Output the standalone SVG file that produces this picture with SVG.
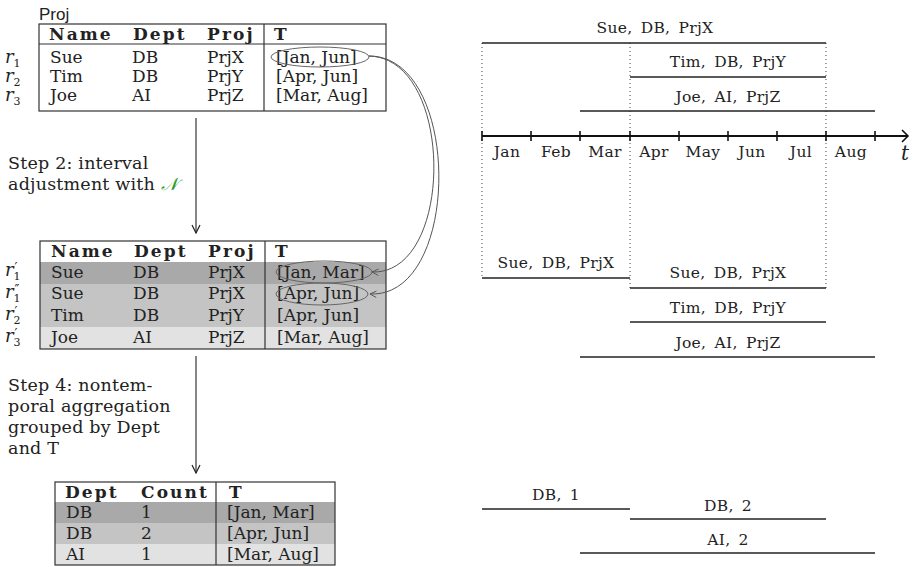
<svg xmlns="http://www.w3.org/2000/svg" width="918" height="567" viewBox="0 0 918 567">
<defs>
<style>
text{font-family:"DejaVu Serif","Liberation Serif",serif;fill:#222}
.cell{font-size:17px}
.hdr{font-size:17px;font-weight:bold;letter-spacing:2.1px}
.lbl{font-size:15.5px;text-anchor:middle;word-spacing:3px;letter-spacing:0.3px}
.mon{font-size:15.5px;text-anchor:middle;letter-spacing:0.4px}
.step{font-size:17.5px;letter-spacing:0.2px}
.ri{font-size:18px;font-style:italic}
.sb{font-size:11px;font-style:normal}
.pr{font-size:13px;font-style:normal}
.box{fill:none;stroke:#333;stroke-width:1.2}
.sep{stroke:#333;stroke-width:1.2}
.iv{stroke:#222;stroke-width:1.3}
.dot{stroke:#444;stroke-width:1;stroke-dasharray:1 3}
.ell{fill:none;stroke:#666;stroke-width:1}
.cur{fill:none;stroke:#555;stroke-width:1}
.ar{fill:none;stroke:#222;stroke-width:1.1}
.r1{fill:#a9a9a9}.r2{fill:#c4c4c4}.r3{fill:#e2e2e2}
</style>
<marker id="op" viewBox="0 0 10 10" refX="9" refY="5" markerWidth="8" markerHeight="8" orient="auto" markerUnits="userSpaceOnUse">
<path d="M1,1 L9,5 L1,9" fill="none" stroke="#555" stroke-width="1.2"/>
</marker>
<marker id="opk" viewBox="0 0 10 10" refX="9" refY="5" markerWidth="10" markerHeight="10" orient="auto" markerUnits="userSpaceOnUse">
<path d="M1,1 L9,5 L1,9" fill="none" stroke="#222" stroke-width="1.2"/>
</marker>
</defs>
<rect width="918" height="567" fill="#fff"/>

<g id="table-proj">
<text x="39" y="20" style="font-family:'Liberation Sans',Arial,sans-serif;font-size:17px">Proj</text>
<rect class="box" x="39" y="24" width="347" height="87"/>
<line class="sep" x1="39" y1="44" x2="386" y2="44"/>
<line class="sep" x1="264" y1="24" x2="264" y2="111"/>
<text class="hdr" x="49" y="40">Name</text>
<text class="hdr" x="133" y="40">Dept</text>
<text class="hdr" x="207" y="40">Proj</text>
<text class="hdr" x="274" y="40">T</text>
<text class="cell" x="50" y="63">Sue</text><text class="cell" x="132" y="63">DB</text><text class="cell" x="207" y="63">PrjX</text><text class="cell" x="276" y="63">[Jan, Jun]</text>
<text class="cell" x="50" y="82">Tim</text><text class="cell" x="132" y="82">DB</text><text class="cell" x="207" y="82">PrjY</text><text class="cell" x="276" y="82">[Apr, Jun]</text>
<text class="cell" x="50" y="101">Joe</text><text class="cell" x="132" y="101">AI</text><text class="cell" x="207" y="101">PrjZ</text><text class="cell" x="276" y="101">[Mar, Aug]</text>
<text class="ri" x="5" y="63">r<tspan class="sb" dy="4">1</tspan></text>
<text class="ri" x="5" y="82">r<tspan class="sb" dy="4">2</tspan></text>
<text class="ri" x="5" y="101">r<tspan class="sb" dy="4">3</tspan></text>
<ellipse class="ell" cx="320" cy="57" rx="49" ry="10"/>
</g>

<g id="step2">
<text class="step" x="8" y="169">Step 2: interval</text>
<text class="step" x="8" y="190">adjustment with <tspan style="fill:#2a9a2a;font-style:italic;font-family:'DejaVu Sans',serif">𝒩</tspan></text>
</g>

<g id="table-adjusted">
<rect class="r1" x="40" y="262" width="346" height="22"/>
<rect class="r2" x="40" y="284" width="346" height="43"/>
<rect class="r3" x="40" y="327" width="346" height="22"/>
<rect class="box" x="40" y="241" width="346" height="108"/>
<line class="sep" x1="265" y1="241" x2="265" y2="349"/>
<text class="hdr" x="51" y="257">Name</text>
<text class="hdr" x="134" y="257">Dept</text>
<text class="hdr" x="208" y="257">Proj</text>
<text class="hdr" x="275" y="257">T</text>
<text class="cell" x="51" y="278">Sue</text><text class="cell" x="133" y="278">DB</text><text class="cell" x="208" y="278">PrjX</text><text class="cell" x="277" y="278">[Jan, Mar]</text>
<text class="cell" x="51" y="299">Sue</text><text class="cell" x="133" y="299">DB</text><text class="cell" x="208" y="299">PrjX</text><text class="cell" x="277" y="299">[Apr, Jun]</text>
<text class="cell" x="51" y="321">Tim</text><text class="cell" x="133" y="321">DB</text><text class="cell" x="208" y="321">PrjY</text><text class="cell" x="277" y="321">[Apr, Jun]</text>
<text class="cell" x="51" y="343">Joe</text><text class="cell" x="133" y="343">AI</text><text class="cell" x="208" y="343">PrjZ</text><text class="cell" x="277" y="343">[Mar, Aug]</text>
<text class="ri" x="5" y="276">r<tspan class="sb" dy="4">1</tspan><tspan class="pr" dx="-6" dy="-8">′</tspan></text>
<text class="ri" x="5" y="298">r<tspan class="sb" dy="4">1</tspan><tspan class="pr" dx="-6" dy="-8">″</tspan></text>
<text class="ri" x="5" y="320">r<tspan class="sb" dy="4">2</tspan><tspan class="pr" dx="-6" dy="-8">′</tspan></text>
<text class="ri" x="5" y="342">r<tspan class="sb" dy="4">3</tspan><tspan class="pr" dx="-6" dy="-8">′</tspan></text>
<ellipse class="ell" cx="324" cy="272" rx="48" ry="11"/>
<ellipse class="ell" cx="322" cy="294" rx="46" ry="11"/>
</g>

<g id="step4">
<text class="step" x="8" y="391">Step 4: nontem-</text>
<text class="step" x="8" y="412">poral aggregation</text>
<text class="step" x="8" y="433">grouped by Dept</text>
<text class="step" x="8" y="454">and T</text>
</g>

<g id="table-agg">
<rect class="r1" x="55" y="502" width="280" height="21"/>
<rect class="r2" x="55" y="523" width="280" height="21"/>
<rect class="r3" x="55" y="544" width="280" height="21"/>
<rect class="box" x="55" y="482" width="280" height="83"/>
<line class="sep" x1="216" y1="482" x2="216" y2="565"/>
<text class="hdr" x="65" y="498">Dept</text>
<text class="hdr" x="141" y="498">Count</text>
<text class="hdr" x="229" y="498">T</text>
<text class="cell" x="66" y="518">DB</text><text class="cell" x="141" y="518">1</text><text class="cell" x="227" y="518">[Jan, Mar]</text>
<text class="cell" x="66" y="539">DB</text><text class="cell" x="141" y="539">2</text><text class="cell" x="227" y="539">[Apr, Jun]</text>
<text class="cell" x="66" y="560">AI</text><text class="cell" x="141" y="560">1</text><text class="cell" x="227" y="560">[Mar, Aug]</text>
</g>

<g id="timeline-top">
<line class="dot" x1="482" y1="43" x2="482" y2="278"/>
<line class="dot" x1="630" y1="43" x2="630" y2="288"/>
<line class="dot" x1="826" y1="43" x2="826" y2="288"/>
<line class="iv" x1="482" y1="43" x2="826" y2="43"/>
<text class="lbl" x="655" y="33">Sue, DB, PrjX</text>
<line class="iv" x1="630" y1="77" x2="826" y2="77"/>
<text class="lbl" x="728" y="67">Tim, DB, PrjY</text>
<line class="iv" x1="580" y1="111" x2="875" y2="111"/>
<text class="lbl" x="728" y="102">Joe, AI, PrjZ</text>
</g>

<g id="axis">
<line x1="482" y1="136" x2="907" y2="136" stroke="#111" stroke-width="2"/>
<path d="M902,130 L908,136 L902,142" fill="none" stroke="#111" stroke-width="1.6"/>
<g stroke="#111" stroke-width="1.6">
<line x1="482" y1="131" x2="482" y2="141"/><line x1="531" y1="131" x2="531" y2="141"/><line x1="580" y1="131" x2="580" y2="141"/><line x1="630" y1="131" x2="630" y2="141"/><line x1="679" y1="131" x2="679" y2="141"/><line x1="728" y1="131" x2="728" y2="141"/><line x1="777" y1="131" x2="777" y2="141"/><line x1="826" y1="131" x2="826" y2="141"/><line x1="875" y1="131" x2="875" y2="141"/>
</g>
<text class="mon" x="507" y="157">Jan</text><text class="mon" x="556" y="157">Feb</text><text class="mon" x="605" y="157">Mar</text><text class="mon" x="654" y="157">Apr</text><text class="mon" x="703" y="157">May</text><text class="mon" x="752" y="157">Jun</text><text class="mon" x="801" y="157">Jul</text><text class="mon" x="851" y="157">Aug</text>
<text x="901" y="160" style="font-size:20px;font-style:italic">t</text>
</g>

<g id="timeline-mid">
<line class="iv" x1="482" y1="278" x2="630" y2="278"/>
<text class="lbl" x="556" y="268">Sue, DB, PrjX</text>
<line class="iv" x1="630" y1="288" x2="826" y2="288"/>
<text class="lbl" x="728" y="278">Sue, DB, PrjX</text>
<line class="iv" x1="630" y1="322" x2="826" y2="322"/>
<text class="lbl" x="728" y="313">Tim, DB, PrjY</text>
<line class="iv" x1="580" y1="357" x2="875" y2="357"/>
<text class="lbl" x="728" y="348">Joe, AI, PrjZ</text>
</g>

<g id="timeline-bottom">
<line class="iv" x1="482" y1="509" x2="630" y2="509"/>
<text class="lbl" x="556" y="500">DB, 1</text>
<line class="iv" x1="630" y1="519" x2="826" y2="519"/>
<text class="lbl" x="728" y="511">DB, 2</text>
<line class="iv" x1="580" y1="553" x2="875" y2="553"/>
<text class="lbl" x="728" y="545">AI, 2</text>
</g>

<g id="connectors">
<line class="ar" x1="196" y1="118" x2="196" y2="233" marker-end="url(#opk)"/>
<line class="ar" x1="196" y1="356" x2="196" y2="473" marker-end="url(#opk)"/>
<path class="cur" d="M369,56 C455,58 455,275 372,272" marker-end="url(#op)"/>
<path class="cur" d="M369,56 C462,56 462,298 370,294" marker-end="url(#op)"/>
</g>
</svg>
